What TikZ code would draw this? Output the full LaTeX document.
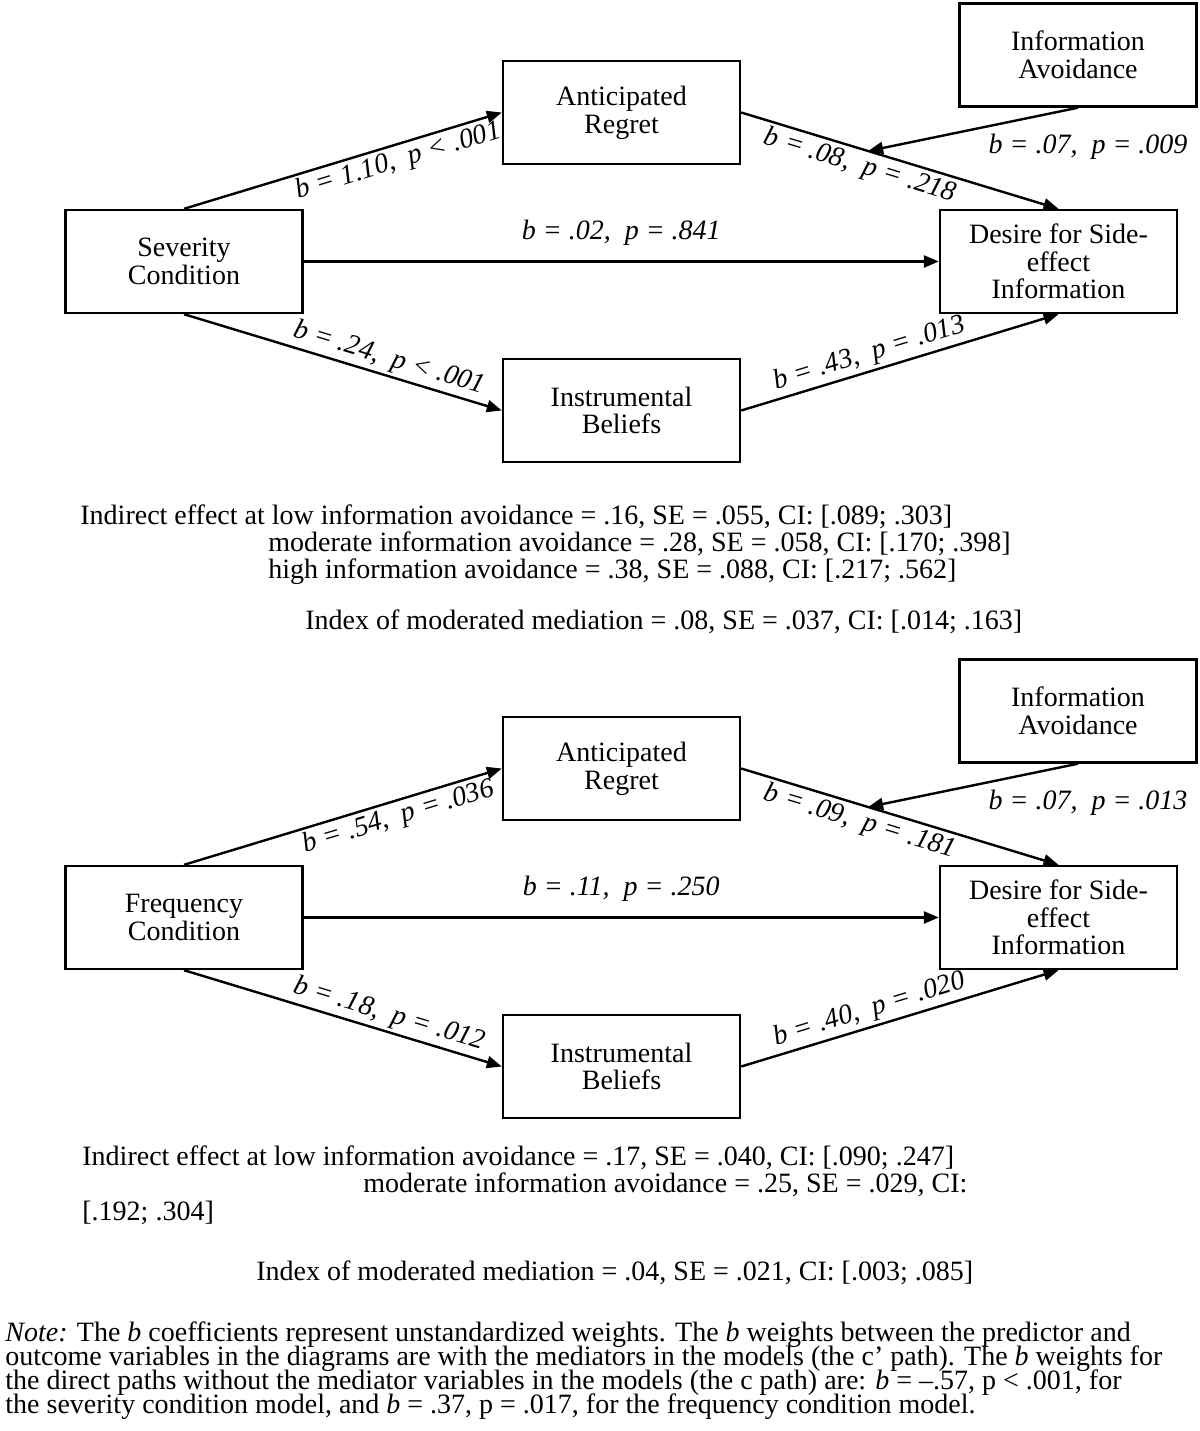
\documentclass[tikz,border=0pt]{standalone}
\usepackage{fontspec}
\setmainfont{Liberation Serif}
\usetikzlibrary{arrows.meta,calc,positioning}
\newcommand\tightlines{\lineskiplimit=-20pt\relax\lineskip=0pt\relax}

\begin{document}
\begin{tikzpicture}[x=0.5pt, y=-0.5pt,
		var/.style={rectangle, draw=black, line width=1.2pt, minimum width=118.5pt, minimum height=51.5pt,
				align=center, font=\fontsize{14}{13.8}\selectfont, inner sep=2pt},
		effect/.style={-{Triangle[length=7.5pt,width=6pt]}, line width=1.2pt},
		coef/.style={font=\fontsize{14}{14}\selectfont\itshape, inner sep=1.5pt},
		stat/.style={anchor=base west, font=\fontsize{14}{14}\selectfont, inner sep=0pt},]
	\useasboundingbox (0,0) rectangle (1200,1431);

	% severity model
	\node (cond1) [var] at (184,261.5) {Severity\\Condition};
	\node (regret1) [var] at (621.5,112.5) {Anticipated\\Regret};
	\node (avoid1) [var] at (1078,55) {Information\\Avoidance};
	\node (desire1) [var] at (1058.5,261.5) {Desire for Side-\\effect\\Information};
	\node (instr1) [var] at (621.5,410.5) {Instrumental\\Beliefs};

	\draw [effect] (cond1.north) -- node[coef, sloped, below, pos=0.66] {b = 1.10,\ \ p < .001} (regret1.west);
	\draw [effect] (cond1.east) -- node[coef, above, yshift=6pt] {b = .02,\ \ p = .841} (desire1.west);
	\draw [effect] (cond1.south) -- node[coef, sloped, above, pos=0.63] {b = .24,\ \ p < .001} (instr1.west);
	\draw [effect] (regret1.east) -- node[coef, sloped, below, pos=0.39] {b = .08,\ \ p = .218} coordinate[pos=0.4] (mod1) (desire1.north);
	\draw [effect] (instr1.east) -- node[coef, sloped, above, pos=0.42] {b = .43,\ \ p = .013} (desire1.south);
	\draw [effect] (avoid1.south) -- (mod1);
	\node (lblav1) [coef] at (1088,147) {b = .07,\ \ p = .009};

	\node (ie1) [stat] at (80,524) {Indirect effect at low information avoidance = .16, SE = .055, CI: [.089; .303]};
	\node (ie2) [stat] at (268,551) {moderate information avoidance = .28, SE = .058, CI: [.170; .398]};
	\node (ie3) [stat] at (268,578) {high information avoidance = .38, SE = .088, CI: [.217; .562]};
	\node (imm1) [stat] at (305,629) {Index of moderated mediation = .08, SE = .037, CI: [.014; .163]};

	% frequency model
	\node (cond2) [var] at (184,917.5) {Frequency\\Condition};
	\node (regret2) [var] at (621.5,768.5) {Anticipated\\Regret};
	\node (avoid2) [var] at (1078,711) {Information\\Avoidance};
	\node (desire2) [var] at (1058.5,917.5) {Desire for Side-\\effect\\Information};
	\node (instr2) [var] at (621.5,1066.5) {Instrumental\\Beliefs};

	\draw [effect] (cond2.north) -- node[coef, sloped, below, pos=0.66] {b = .54,\ \ p = .036} (regret2.west);
	\draw [effect] (cond2.east) -- node[coef, above, yshift=6pt] {b = .11,\ \ p = .250} (desire2.west);
	\draw [effect] (cond2.south) -- node[coef, sloped, above, pos=0.63] {b = .18,\ \ p = .012} (instr2.west);
	\draw [effect] (regret2.east) -- node[coef, sloped, below, pos=0.39] {b = .09,\ \ p = .181} coordinate[pos=0.4] (mod2) (desire2.north);
	\draw [effect] (instr2.east) -- node[coef, sloped, above, pos=0.42] {b = .40,\ \ p = .020} (desire2.south);
	\draw [effect] (avoid2.south) -- (mod2);
	\node (lblav2) [coef] at (1088,803) {b = .07,\ \ p = .013};

	\node (ie4) [stat] at (82,1165) {Indirect effect at low information avoidance = .17, SE = .040, CI: [.090; .247]};
	\node (ie5) [stat] at (363,1192) {moderate information avoidance = .25, SE = .029, CI:};
	\node (ie6) [stat] at (82,1220) {[.192; .304]};
	\node (imm2) [stat] at (256,1280) {Index of moderated mediation = .04, SE = .021, CI: [.003; .085]};

	% note (base anchor sits on the last line)
	\node (note) [stat, font=\fontsize{14}{12}\selectfont\tightlines, align=left] at (5,1413)
	{\textit{Note:} The \textit{b} coefficients represent unstandardized weights. The \textit{b} weights between the predictor and\\
		outcome variables in the diagrams are with the mediators in the models (the c’ path). The \textit{b} weights for\\
		the direct paths without the mediator variables in the models (the c path) are: \textit{b} = --.57, p < .001, for\\
		the severity condition model, and \textit{b} = .37, p = .017, for the frequency condition model.};
\end{tikzpicture}
\end{document}
